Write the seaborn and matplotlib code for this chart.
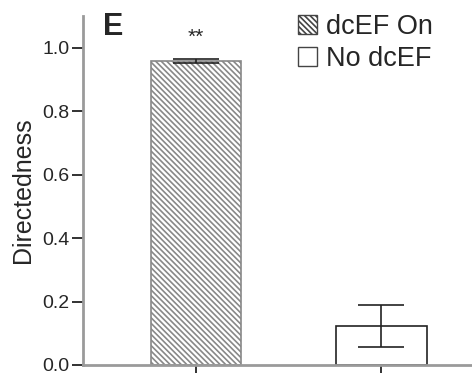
import matplotlib
matplotlib.use("Agg")
import matplotlib.pyplot as plt
import seaborn as sns
import pandas as pd
from matplotlib.patches import Patch

conditions = ["dcEF On", "No dcEF"]
directedness = [0.959, 0.122]
sem = [0.007, 0.066]
hatches = ["\\\\\\\\\\\\", ""]

sns.set_style("ticks")
plt.rcParams["font.family"] = ["Liberation Sans", "DejaVu Sans"]
plt.rcParams["hatch.color"] = "#3a3a3a"
plt.rcParams["hatch.linewidth"] = 1.2

df = pd.DataFrame({"condition": conditions, "directedness": directedness})

fig = plt.figure(figsize=(4.72, 3.77), dpi=100)
ax = fig.add_axes([0.176, 0.032, 0.824, 0.925])

sns.barplot(data=df, x="condition", y="directedness", color="white",
            width=0.49, errorbar=None, ax=ax, linewidth=1.2, edgecolor="#222222")
for bar, h in zip(ax.patches, hatches):
    bar.set_hatch(h)
    if h:
        bar.set_edgecolor("#888888")

ax.errorbar(range(len(conditions)), directedness, yerr=sem, fmt="none",
            ecolor="#222222", elinewidth=1.2, capsize=16.5, capthick=1.2)

ax.text(0, 1.005, "**", ha="center", va="bottom", fontsize=15)
ax.text(-0.5, 1.065, "E", ha="left", va="center", fontsize=22, fontweight="bold")

ax.set_xlim(-0.61, 1.49)
ax.set_ylim(0, 1.1)
ax.set_yticks([0.0, 0.2, 0.4, 0.6, 0.8, 1.0])
ax.set_yticklabels(["0.0", "0.2", "0.4", "0.6", "0.8", "1.0"])
ax.set_xticks([0, 1])
ax.set_xticklabels(["", ""])
ax.set_xlabel("")
ax.set_ylabel("Directedness", fontsize=18, labelpad=5)
ax.tick_params(axis="y", labelsize=14, length=8, width=1.3, color="#222222", pad=2)
ax.tick_params(axis="x", length=6, width=1.3, color="#222222", direction="out")
for side in ["top", "right"]:
    ax.spines[side].set_visible(False)
for side in ["left", "bottom"]:
    ax.spines[side].set_color("#9a9a9a")
    ax.spines[side].set_linewidth(2)

handles = [Patch(facecolor="white", edgecolor="#444444", hatch="\\\\\\\\\\\\", label=conditions[0]),
           Patch(facecolor="white", edgecolor="#444444", label=conditions[1])]
fig.legend(handles=handles, loc="upper left", bbox_to_anchor=(0.631, 0.964),
           frameon=False, fontsize=19.5, handlelength=0.7, handleheight=0.7,
           handletextpad=0.33, labelspacing=0.25, borderaxespad=0, borderpad=0)

fig.savefig("out.png", dpi=100)
